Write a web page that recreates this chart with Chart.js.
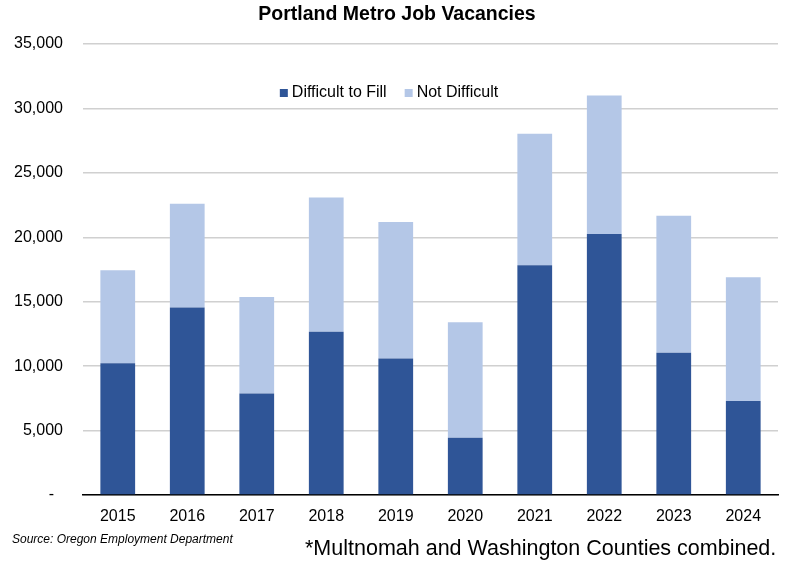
<!DOCTYPE html>
<html lang="en">
<head>
    <meta charset="UTF-8">
    <title>Portland Metro Job Vacancies</title>
    <script src="https://cdn.jsdelivr.net/npm/chart.js@4.4.1/dist/chart.umd.min.js"></script>
    <style>
        body { margin: 0; background: #fff; font-family: "Liberation Sans", Arial, sans-serif; }
        .wrap { position: relative; width: 788px; height: 563px; }
        .source { position: absolute; left: 12px; top: 532px; font-size: 12px; font-style: italic; color: #000; }
        .note { position: absolute; left: 305px; top: 536px; font-size: 21.5px; color: #000; white-space: nowrap; }
    </style>
</head>
<body>
    <div class="wrap">
        <canvas id="vacancyChart" width="788" height="563"></canvas>
        <div class="source">Source: Oregon Employment Department</div>
        <div class="note">*Multnomah and Washington Counties combined.</div>
    </div>
    <script>
    // values
    const years = ['2015', '2016', '2017', '2018', '2019', '2020', '2021', '2022', '2023', '2024'];
    const difficultToFill = [10230, 14550, 7880, 12660, 10600, 4440, 17830, 20260, 11030, 7290];
    const notDifficult = [7210, 8060, 7490, 10420, 10590, 8970, 10210, 10750, 10650, 9610];
    const yTicks = [0, 5000, 10000, 15000, 20000, 25000, 30000, 35000];
    const chartTitle = 'Portland Metro Job Vacancies';

    const FONT = '"Liberation Sans", Arial, sans-serif';

    // title and legend drawn by hand so they sit where the original has them
    const decorations = {
        id: 'decorations',
        afterDraw(chart) {
            const ctx = chart.ctx;
            ctx.save();
            ctx.fillStyle = '#000';
            ctx.font = 'bold 19.5px ' + FONT;
            ctx.textAlign = 'center';
            ctx.textBaseline = 'middle';
            ctx.fillText(chartTitle, 397, 15);

            ctx.font = '16px ' + FONT;
            ctx.textAlign = 'left';
            const items = chart.data.datasets.map(ds => ({ text: ds.label, color: ds.backgroundColor }));
            const box = 8, gap = 4, spacing = 18;
            let total = 0;
            items.forEach((it, i) => {
                it.w = box + gap + ctx.measureText(it.text).width;
                total += it.w + (i ? spacing : 0);
            });
            let x = 389 - total / 2;
            const y = 93;
            items.forEach(it => {
                ctx.fillStyle = it.color;
                ctx.fillRect(x, y - box / 2, box, box);
                ctx.fillStyle = '#000';
                ctx.fillText(it.text, x + box + gap, y);
                x += it.w + spacing;
            });
            ctx.restore();
        }
    };

    new Chart(document.getElementById('vacancyChart'), {
        type: 'bar',
        data: {
            labels: years,
            datasets: [{
                label: 'Difficult to Fill',
                data: difficultToFill,
                backgroundColor: '#2F5597'
            }, {
                label: 'Not Difficult',
                data: notDifficult,
                backgroundColor: '#B4C7E7'
            }]
        },
        options: {
            responsive: false,
            animation: false,
            layout: { padding: { left: 0, right: 10, top: 44, bottom: 38 } },
            datasets: { bar: { barPercentage: 0.5, categoryPercentage: 1.0 } },
            plugins: {
                legend: { display: false },
                tooltip: { enabled: false },
                title: { display: false }
            },
            scales: {
                x: {
                    stacked: true,
                    grid: { display: false, drawTicks: false },
                    border: { display: true, color: '#000', width: 1.5 },
                    ticks: { color: '#000', padding: 12, font: { family: FONT, size: 16 } },
                    afterFit(scale) { scale.height = 30; }
                },
                y: {
                    stacked: true,
                    min: 0,
                    max: 35000,
                    afterBuildTicks(scale) { scale.ticks = yTicks.map(v => ({ value: v })); },
                    grid: { color: '#d0d0d0', lineWidth: 1.5, drawTicks: false },
                    border: { display: false },
                    ticks: {
                        color: '#000',
                        padding: 20,
                        font: { family: FONT, size: 16 },
                        callback: v => v === 0 ? '-  ' : v.toLocaleString('en-US')
                    },
                    afterFit(scale) { scale.width = 83; }
                }
            }
        },
        plugins: [decorations]
    });
    </script>
</body>
</html>
